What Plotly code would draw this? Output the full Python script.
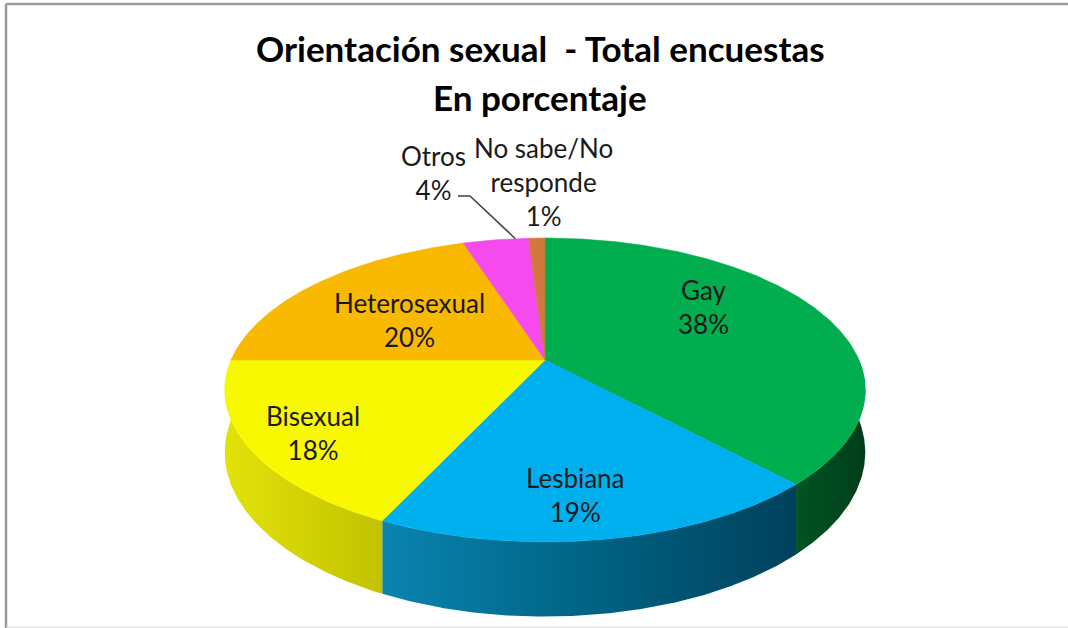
import math
import plotly.graph_objects as go

# ---------------- data ----------------
categories = ["Gay", "Lesbiana", "Bisexual", "Heterosexual", "Otros", "No sabe/No responde"]
values = [38, 19, 18, 20, 4, 1]
top_colors = ["#00AD4F", "#00B0EE", "#F8F800", "#F9B900", "#F54BEE", "#D2783C"]
wall_gradients = [
    [[0, "#005424"], [1, "#003D19"]],
    [[0, "#0A84B0"], [0.5, "#006384"], [1, "#00415C"]],
    [[0, "#E2E20A"], [1, "#C2C200"]],
    [[0, "#D9A000"], [1, "#B08000"]],
    [[0, "#C030C0"], [1, "#902090"]],
    [[0, "#A05020"], [1, "#803818"]],
]
title_lines = ["Orientación sexual  - Total encuestas", "En porcentaje"]

# ---------------- layout / geometry (styling) ----------------
W, H_FIG = 1068, 628
CX, CY = 545, 360       # projected centre of the top face
RX, RY = 314, 146       # radii of the disc
D = 5.07                # perspective distance
DEPTH = 60              # wall thickness
FONT = "Lato"

label_pos = {           # label centres (pixel space)
    "Gay": (703, 307),
    "Lesbiana": (575, 495),
    "Bisexual": (313, 433),
    "Heterosexual": (409, 320),
    "Otros": (433, 173),
    "No sabe/No responde": (543, 182),
}


def proj(theta_deg, r=1.0, drop=0.0):
    t = math.radians(theta_deg)
    u = r * math.sin(t)
    v = -r * math.cos(t)
    f = D / (D - v)
    return CX + RX * u * f, CY + RY * v * f + drop * f


def arc(a0, a1, drop=0.0, n=None):
    if n is None:
        n = max(4, int(abs(a1 - a0) * 2))
    xs, ys = [], []
    for i in range(n + 1):
        a = a0 + (a1 - a0) * i / n
        x, y = proj(a, 1.0, drop)
        xs.append(x)
        ys.append(y)
    return xs, ys


total = sum(values)
bounds = []
acc = 0.0
for v in values:
    a0 = acc / total * 360.0
    acc += v
    a1 = acc / total * 360.0
    bounds.append((a0, a1))

fig = go.Figure()

# ---- side walls (only front half is visible) ----
for i, (a0, a1) in enumerate(bounds):
    w0, w1 = max(a0, 90.0), min(a1, 270.0)
    if w1 <= w0:
        continue
    tx, ty = arc(w0, w1, 0.0)
    bx, by = arc(w1, w0, DEPTH)
    xs = tx + bx + [tx[0]]
    ys = ty + by + [ty[0]]
    fig.add_trace(go.Scatter(
        x=xs, y=ys, mode="lines", fill="toself",
        fillgradient=dict(type="horizontal", colorscale=wall_gradients[i]),
        line=dict(width=0), hoverinfo="skip", showlegend=False,
    ))

# ---- top faces ----
for i, (a0, a1) in enumerate(bounds):
    ax, ay = arc(a0, a1, 0.0)
    xs = [CX] + ax + [CX]
    ys = [CY] + ay + [CY]
    fig.add_trace(go.Scatter(
        x=xs, y=ys, mode="lines", fill="toself", fillcolor=top_colors[i],
        line=dict(width=0.6, color=top_colors[i]), hoverinfo="skip", showlegend=False,
    ))

# ---- leader line for "Otros" ----
oi = categories.index("Otros")
a_end = bounds[oi][0] + 0.8 * (bounds[oi][1] - bounds[oi][0])
ex, ey = proj(a_end, 1.0)
lx, ly = label_pos["Otros"]
fig.add_trace(go.Scatter(
    x=[lx + 25, lx + 37, ex], y=[ly + 23, ly + 23, ey],
    mode="lines", line=dict(color="#404040", width=1.5),
    hoverinfo="skip", showlegend=False,
))

# ---- labels ----
annotations = []
for cat, val in zip(categories, values):
    name = cat.replace("/No ", "/No<br>")
    x, y = label_pos[cat]
    annotations.append(dict(
        x=x, y=y, xref="x", yref="y", text=f"{name}<br>{val}%",
        showarrow=False, xanchor="center", yanchor="middle",
        font=dict(family=FONT, size=26, color="#1a1a1a"),
    ))

annotations.append(dict(x=540, y=48, xref="x", yref="y", text=f"<b>{title_lines[0]}</b>",
                        showarrow=False, xanchor="center", yanchor="middle",
                        font=dict(family=FONT, size=35, color="#000000")))
annotations.append(dict(x=540, y=97, xref="x", yref="y", text=f"<b>{title_lines[1]}</b>",
                        showarrow=False, xanchor="center", yanchor="middle",
                        font=dict(family=FONT, size=35, color="#000000")))

shapes = [
    dict(type="line", xref="x", yref="y", x0=6, y0=4, x1=6, y1=628,
         line=dict(color="#9a9a9a", width=2.5)),
    dict(type="line", xref="x", yref="y", x0=6, y0=4, x1=1068, y1=4,
         line=dict(color="#9a9a9a", width=2.5)),
    dict(type="line", xref="x", yref="y", x0=6, y0=627, x1=1068, y1=627,
         line=dict(color="#d8d8d8", width=1)),
]

fig.update_layout(
    width=W, height=H_FIG,
    margin=dict(l=0, r=0, t=0, b=0),
    paper_bgcolor="white", plot_bgcolor="white",
    xaxis=dict(range=[0, W], visible=False, fixedrange=True),
    yaxis=dict(range=[H_FIG, 0], visible=False, fixedrange=True),
    annotations=annotations, shapes=shapes,
    showlegend=False,
)

fig.write_html("out.html", config={"displayModeBar": False},
               post_script="document.body.style.margin='0';")
